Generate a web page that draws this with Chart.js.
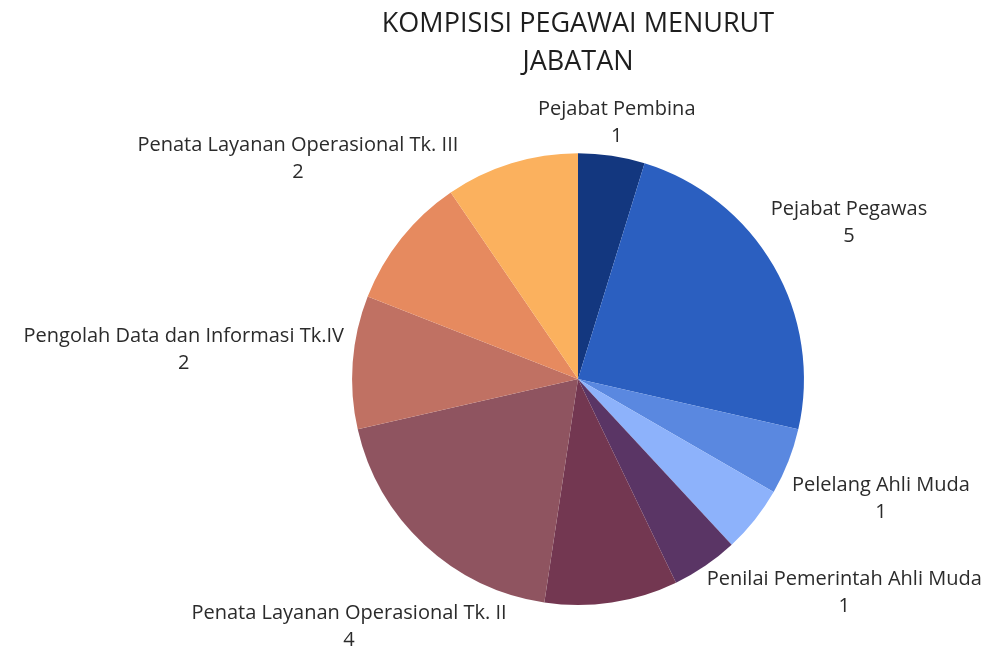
<!DOCTYPE html>
<html>
<head>
<meta charset="utf-8">
<script src="https://cdn.jsdelivr.net/npm/chart.js@4"></script>
<style>
  html, body { margin: 0; padding: 0; background: #fff; }
  #wrap { width: 982px; height: 648px; }
</style>
</head>
<body>
<div id="wrap"><canvas id="graficoJabatan"></canvas></div>
<script>
// data, clockwise from the top
const jabatan = [
  'Pejabat Pembina',
  'Pejabat Pegawas',
  'Pelelang Ahli Muda',
  '',
  'Penilai Pemerintah Ahli Muda',
  '',
  'Penata Layanan Operasional Tk. II',
  'Pengolah Data dan Informasi Tk.IV',
  '',
  'Penata Layanan Operasional Tk. III'
];
const jumlah = [1, 5, 1, 1, 1, 2, 4, 2, 2, 2];
const warna = ['#13377f', '#2b5fc0', '#5a88e0', '#8db2fb', '#5a3565',
               '#733751', '#8f5460', '#c07163', '#e68a5f', '#fbb15e'];

// where each outside label sits: angle (deg from top, null = middle of slice), distance in radii
const posisiLabel = [
  { angle: null, dist: 1.15 },
  { angle: null, dist: 1.385 },
  { angle: null, dist: 1.44 },
  null,
  { angle: 128.7, dist: 1.51 },
  null,
  { angle: null, dist: 1.49 },
  { angle: null, dist: 1.75 },
  null,
  { angle: 308.3, dist: 1.58 }
];

const FONT = '"Open Sans", "DejaVu Sans", sans-serif';

const labelLuar = {
  id: 'labelLuar',
  afterDatasetsDraw(chart) {
    const ctx = chart.ctx;
    const meta = chart.getDatasetMeta(0);
    ctx.save();
    ctx.fillStyle = '#2b2b2b';
    ctx.font = '20px ' + FONT;
    ctx.textAlign = 'center';
    ctx.textBaseline = 'middle';
    meta.data.forEach((arc, i) => {
      const p = posisiLabel[i];
      if (!p || !jabatan[i]) return;
      const { x, y, startAngle, endAngle, outerRadius } = arc.getProps(['x', 'y', 'startAngle', 'endAngle', 'outerRadius'], true);
      let a = (startAngle + endAngle) / 2;
      if (p.angle !== null) a = (p.angle - 90) * Math.PI / 180;
      const cx = x + Math.cos(a) * outerRadius * p.dist;
      const cy = y + Math.sin(a) * outerRadius * p.dist;
      ctx.fillText(jabatan[i], cx, cy - 13);
      ctx.fillText(String(jumlah[i]), cx, cy + 14);
    });
    ctx.restore();
  }
};

const ctx = document.getElementById('graficoJabatan').getContext('2d');
new Chart(ctx, {
  type: 'pie',
  data: {
    labels: jabatan,
    datasets: [{
      data: jumlah,
      backgroundColor: warna,
      borderWidth: 0
    }]
  },
  options: {
    responsive: true,
    maintainAspectRatio: false,
    animation: false,
    layout: {
      padding: { left: 352, right: 178, top: 0, bottom: 43 }
    },
    plugins: {
      title: {
        display: true,
        text: ['KOMPISISI PEGAWAI MENURUT', 'JABATAN'],
        color: '#1e1e1e',
        font: { size: 27, family: FONT, weight: 'normal', lineHeight: 1.41 },
        padding: { top: 5, bottom: 72 }
      },
      legend: { display: false },
      tooltip: { enabled: false }
    }
  },
  plugins: [labelLuar]
});
</script>
</body>
</html>
